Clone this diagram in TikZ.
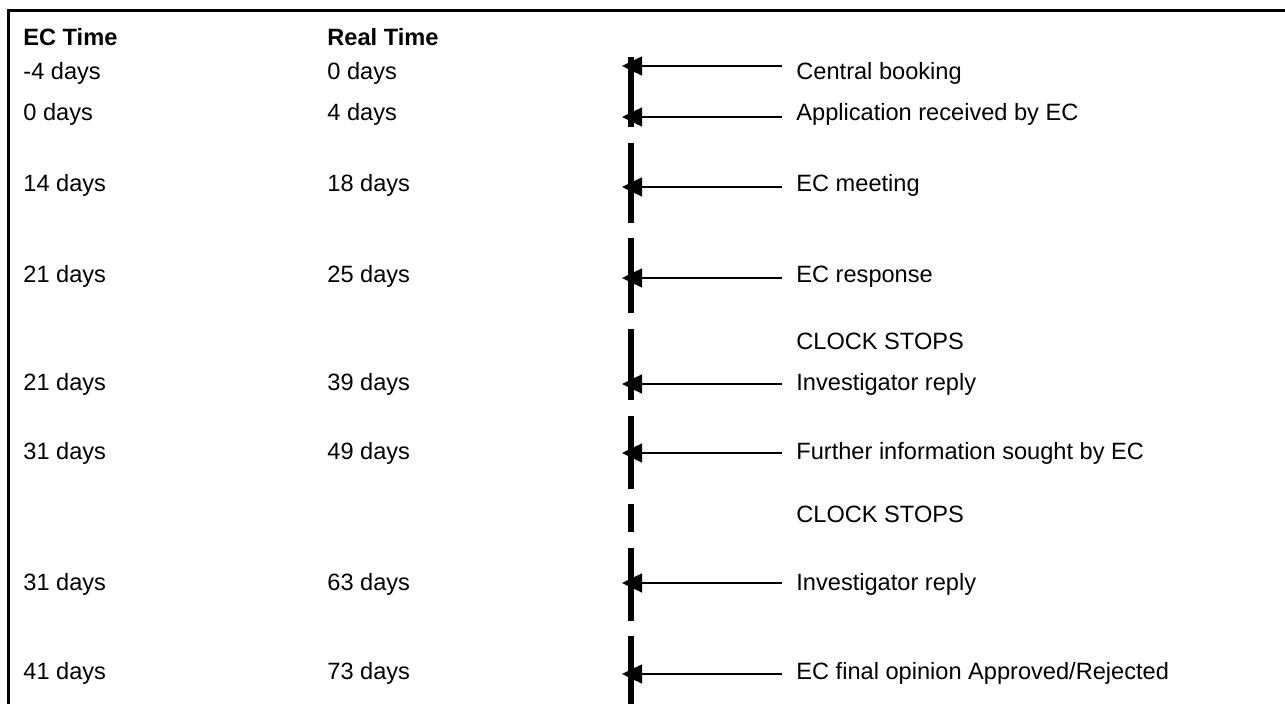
\documentclass[tikz,border=0pt]{standalone}
\usepackage{fontspec}
\setmainfont{Liberation Sans}
\usetikzlibrary{arrows.meta}
\begin{document}
\begin{tikzpicture}[x=0.5pt,y=-0.5pt,
  txt/.style={anchor=base west,inner sep=0pt,font=\fontsize{11.8}{14}\selectfont},
  hdr/.style={anchor=base west,inner sep=0pt,font=\fontsize{11.8}{14}\selectfont\bfseries},
  frame/.style={line width=1.5pt},
  bar/.style={line width=3pt},
  evt/.style={line width=0.7pt,-{Triangle[length=10pt,width=9.5pt]}}]
\useasboundingbox (0,0) rectangle (1285,704);

% open frame: top and left rules
\draw[frame] (8,704) -- (8,11) -- (1285,11);

% column headings
\node[hdr] (hEC) at (23,46) {EC Time};
\node[hdr] (hRT) at (327,46) {Real Time};

% broken time line
\foreach \a/\b [count=\i] in {57/127,143/223,238/313,329/400,416/489,504/532,548/621,636/704}
  \draw[bar] (631,\a) -- (631,\b);

% events: EC time / real time / label / text baseline / arrow height
\foreach \ec/\rt/\lab/\bl/\ay [count=\i] in {
  -4 days/0 days/{Central booking}/80/66,
  0 days/4 days/{Application received by EC}/121/117,
  14 days/18 days/{EC meeting}/192/187,
  21 days/25 days/{EC response}/283/278,
  21 days/39 days/{Investigator reply}/391/384,
  31 days/49 days/{Further information sought by EC}/460/453,
  31 days/63 days/{Investigator reply}/591/583,
  41 days/73 days/{EC final opinion Approved/Rejected}/680/674}
{
  \node[txt] (ec\i) at (23,\bl) {\ec};
  \node[txt] (rt\i) at (327,\bl) {\rt};
  \node[txt] (ev\i) at (796,\bl) {\lab};
  \coordinate (s\i) at (782,\ay);
  \coordinate (t\i) at (622,\ay);
  \draw[evt] (s\i) -- (t\i);
}

% pauses
\node[txt] (stop1) at (796,350) {CLOCK STOPS};
\node[txt] (stop2) at (796,523) {CLOCK STOPS};
\end{tikzpicture}
\end{document}
